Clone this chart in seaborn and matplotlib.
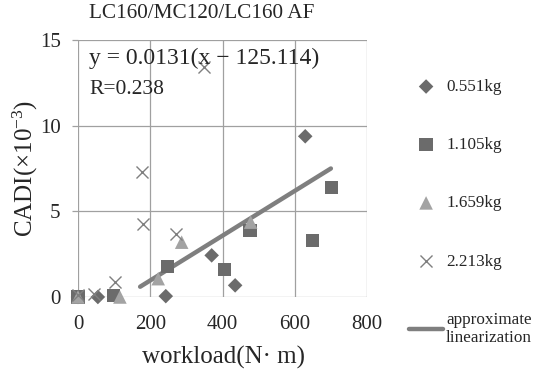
import matplotlib
matplotlib.use("Agg")
import matplotlib.pyplot as plt
import seaborn as sns
import pandas as pd

sns.set_theme(style="white")
plt.rcParams['font.family'] = ['Liberation Serif', 'DejaVu Serif']
plt.rcParams['mathtext.fontset'] = 'custom'
plt.rcParams['mathtext.rm'] = 'Liberation Serif'
plt.rcParams['mathtext.it'] = 'Liberation Serif:italic'

# data
diamond_x = [0, 55, 243, 370, 435, 629]
diamond_y = [0, 0, 0.05, 2.43, 0.68, 9.38]
square_x = [0, 98, 248, 405, 476, 649, 701]
square_y = [0, 0.1, 1.79, 1.6, 3.89, 3.3, 6.41]
tri_x = [0, 116, 222, 287, 478]
tri_y = [0, 0, 1.07, 3.2, 4.37]
cross_x = [0, 45, 102, 176, 181, 271, 349]
cross_y = [0.1, 0.2, 0.87, 7.28, 4.28, 3.69, 13.4]
fit_x = [172, 700]
fit_y = [0.6, 7.5]

series_labels = ["0.551kg", "1.105kg", "1.659kg", "2.213kg"]
fit_label = "approximate\nlinearization"
x_ticks = [0, 200, 400, 600, 800]
y_ticks = [0, 5, 10, 15]

W, H = 534, 383
fig = plt.figure(figsize=(W / 100, H / 100), dpi=100)
ax = fig.add_axes([78 / W, 1 - 297 / H, (367 - 78) / W, (297 - 40) / H])

fit_df = pd.DataFrame({"x": fit_x, "y": fit_y})
sns.lineplot(data=fit_df, x="x", y="y", ax=ax, color="#7f7f7f", linewidth=3.2,
             label=fit_label, zorder=2)

specs = [
    (diamond_x, diamond_y, "D", "#6b6b6b", 55),
    (square_x, square_y, "s", "#6b6b6b", 90),
    (tri_x, tri_y, "^", "#a3a3a3", 95),
]
for (xs, ys, m, c, s), lab in zip(specs, series_labels[:3]):
    d = pd.DataFrame({"x": xs, "y": ys})
    sns.scatterplot(data=d, x="x", y="y", ax=ax, marker=m, color=c, s=s,
                    linewidth=0, edgecolor="none", label=lab, clip_on=False, zorder=3)
d = pd.DataFrame({"x": cross_x, "y": cross_y})
sns.scatterplot(data=d, x="x", y="y", ax=ax, marker="x", color="#7f7f7f", s=75,
                linewidth=1.0, label=series_labels[3], clip_on=False, zorder=4)

ax.set_xlim(0, 800)
ax.set_ylim(0, 15)
ax.set_xticks(x_ticks)
ax.set_yticks(y_ticks)
ax.grid(True, color="#a0a0a0", linewidth=0.9)
for sp in ax.spines.values():
    sp.set_visible(False)
ax.tick_params(axis="y", length=4.5, width=0.9, color="#a0a0a0", pad=8, labelsize=15, left=True)
ax.tick_params(axis="x", length=0, pad=13, labelsize=15)
ax.set_xlabel("")
ax.set_ylabel("")

h, l = ax.get_legend_handles_labels()
order = [l.index(x) for x in series_labels] + [l.index(fit_label)]
if ax.get_legend():
    ax.get_legend().remove()
fig.legend([h[i] for i in order], [l[i] for i in order], loc="upper left",
           bbox_to_anchor=(409 / W, 1 - 79 / H), frameon=False, fontsize=12.3,
           labelspacing=2.47, handletextpad=0.17, handlelength=2.0,
           borderaxespad=0, borderpad=0)

fig.text(202 / W, 1 - 14 / H, "LC160/MC120/LC160 AF", ha="center", va="center", fontsize=15.3)
fig.text(89 / W, 1 - 58 / H, "y = 0.0131(x \u2212 125.114)", ha="left", va="center", fontsize=17)
fig.text(89 / W, 1 - 89 / H, "R=0.238", ha="left", va="center", fontsize=15.5)
fig.text(25 / W, 1 - 168 / H, "CADI(\u00d710$^{-3}$)", rotation=90, ha="center", va="center", fontsize=18)
fig.text(223 / W, 1 - 357 / H, "workload(N\u00b7 m)", ha="center", va="center", fontsize=18)

fig.savefig("out.png", dpi=100, facecolor="white")
